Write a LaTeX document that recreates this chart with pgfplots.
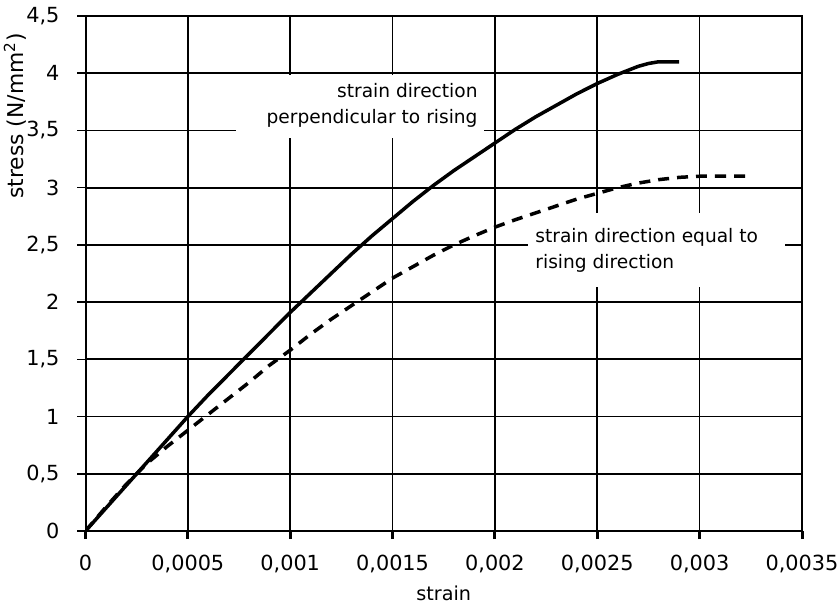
\documentclass[border=0pt]{standalone}
\usepackage{fontspec}
\setmainfont{DejaVu Sans}
\usepackage{pgfplots}
\pgfplotsset{compat=1.18}

\begin{document}
\begin{tikzpicture}
\begin{axis}[
  scale only axis,
  width=358.25pt, height=257.5pt,
  xmin=0, xmax=0.0035, ymin=0, ymax=4.5,
  font=\fontsize{9.3}{13}\selectfont,
  xtick={0,0.0005,0.001,0.0015,0.002,0.0025,0.003,0.0035},
  xticklabels={0,{0,0005},{0,001},{0,0015},{0,002},{0,0025},{0,003},{0,0035}},
  ytick={0,0.5,1,1.5,2,2.5,3,3.5,4,4.5},
  yticklabels={0,{0,5},1,{1,5},2,{2,5},3,{3,5},4,{4,5}},
  scaled x ticks=false,
  xtick pos=left, ytick pos=left,
  tick align=outside,
  major tick length=4pt,
  x tick style={black,line width=1.5pt},
  y tick style={black,line width=0.8pt},
  tick label style={font=\fontsize{10.4}{12}\selectfont},
  xticklabel style={yshift=-4.5pt},
  yticklabel style={xshift=-5.5pt},
  grid=major,
  grid style={black,line width=0.85pt},
  axis line style={black,line width=0.85pt},
  xlabel={strain},
  ylabel={stress (N/mm\textsuperscript{2})},
  xlabel style={at={(axis description cs:0.5,-0.1204)},anchor=center,font=\fontsize{9.6}{12}\selectfont},
  ylabel style={at={(axis description cs:-0.0984,0.806)},anchor=center,font=\fontsize{10.9}{13}\selectfont},
]
\coordinate (sw) at (rel axis cs:0,0);
\coordinate (ne) at (rel axis cs:1,1);
\fill[white] (axis cs:0.000735,3.435) rectangle (axis cs:0.001947,3.986);
\fill[white] (axis cs:0.002162,2.136) rectangle (axis cs:0.003418,2.777);

\addplot[black,line width=1.75pt,line join=round] coordinates {
(0,0) (0.0001,0.20) (0.0002,0.40) (0.0003,0.60) (0.0004,0.80) (0.0005,1.00)
(0.0006,1.19) (0.0007,1.37) (0.0008,1.55) (0.0009,1.73) (0.001,1.91)
(0.0011,2.08) (0.0012,2.25) (0.0013,2.42) (0.0014,2.58) (0.0015,2.73)
(0.0016,2.88) (0.0017,3.02) (0.0018,3.15) (0.0019,3.27) (0.002,3.39)
(0.0021,3.51) (0.0022,3.62) (0.0023,3.72) (0.0024,3.82) (0.0025,3.91)
(0.0026,3.99) (0.0027,4.06) (0.00275,4.085) (0.0028,4.10) (0.0029,4.10)};

\addplot[black,line width=1.75pt,dash pattern=on 5.5pt off 4pt] coordinates {
(0,0) (0.0001,0.21) (0.0002,0.41) (0.0003,0.59) (0.0004,0.74) (0.0005,0.88)
(0.0006,1.02) (0.0007,1.16) (0.0008,1.30) (0.0009,1.45) (0.001,1.58)
(0.0011,1.72) (0.0012,1.85) (0.0013,1.97) (0.0014,2.09) (0.0015,2.21)
(0.0016,2.31) (0.0017,2.41) (0.0018,2.50) (0.0019,2.58) (0.002,2.655)
(0.0021,2.72) (0.0022,2.78) (0.0023,2.84) (0.0024,2.90) (0.0025,2.95)
(0.0026,3.00) (0.0027,3.04) (0.0028,3.07) (0.0029,3.09) (0.003,3.10) (0.00323,3.10)};

\node[anchor=east,align=right,inner sep=0pt] at (axis cs:0.001917,3.715)
  {strain direction\\perpendicular to rising};
\node[anchor=west,align=left,inner sep=0pt] at (axis cs:0.002196,2.456)
  {strain direction equal to\\rising direction};

\draw[black,line width=1.5pt] (rel axis cs:0,1) -- (rel axis cs:0,0) -- (rel axis cs:1,0);
\end{axis}
\pgfresetboundingbox
\path[use as bounding box] ([shift={(-42.75pt,-39pt)}]sw) rectangle ([shift={(18.5pt,8pt)}]ne);
\end{tikzpicture}
\end{document}
